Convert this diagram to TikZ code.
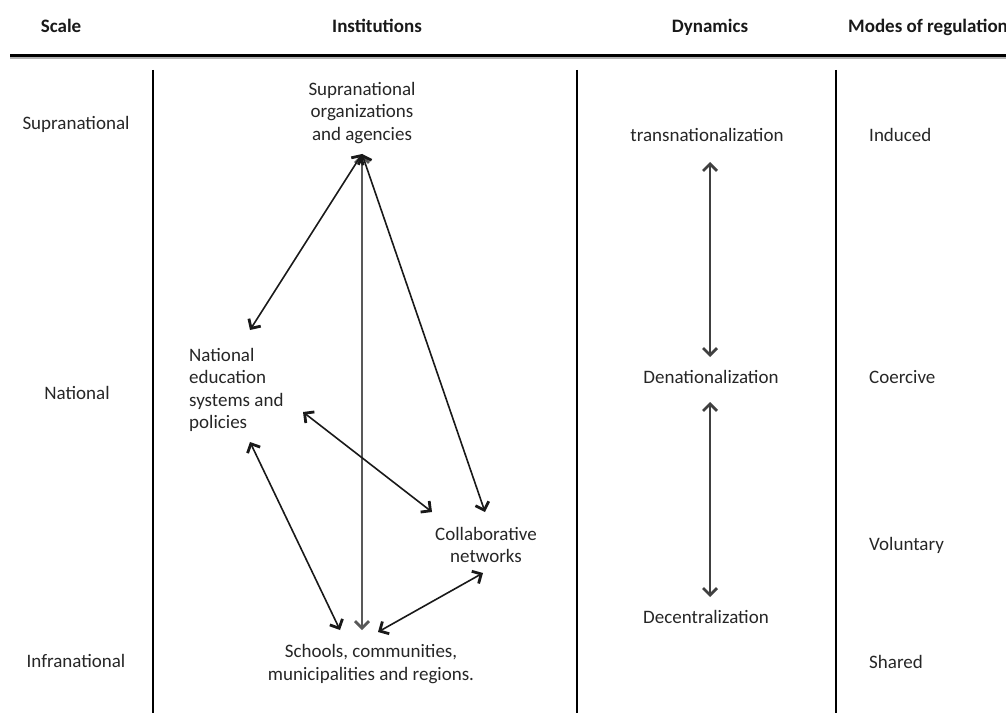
\documentclass[tikz,border=0pt]{standalone}
\usepackage{fontspec}
\setmainfont{Carlito}
\usetikzlibrary{arrows.meta}
\begin{document}
\begin{tikzpicture}[x=1pt,y=-1pt,
  txt/.style={inner sep=0pt, text=black!85, font=\fontsize{19}{22.5}\selectfont},
  hdr/.style={inner sep=0pt, text=black!90, font=\fontsize{19}{22.5}\selectfont\bfseries},
  colline/.style={line width=2.6pt, black},
  link/.style={line width=1.6pt, black!90, {Straight Barb[length=7pt,width=14pt,line width=2.8pt]}-{Straight Barb[length=7pt,width=14pt,line width=2.8pt]}},
  vlink/.style={link, black!65, line width=1.9pt},
]
\useasboundingbox (0,0) rectangle (1006,722);

% header
\node[hdr, anchor=base] (hScale) at (61,33) {Scale};
\node[hdr, anchor=base] (hInst) at (377,33) {Institutions};
\node[hdr, anchor=base] (hDyn) at (710,33) {Dynamics};
\node[hdr, anchor=base west] (hModes) at (848,33) {Modes of regulation};
\draw[black!30, line width=2pt] (10,57.9) -- (1006,57.9);
\draw[line width=2.6pt] (10,55.4) -- (1006,55.4);

% column lines
\draw[colline] (153,70) -- (153,713);
\draw[colline] (577,70) -- (577,713);
\draw[colline] (836,70) -- (836,713);

% scale column
\node[txt, anchor=base] (sSup) at (76,130) {Supranational};
\node[txt, anchor=base] (sNat) at (77,399) {National};
\node[txt, anchor=base] (sInf) at (76,667) {Infranational};

% institutions
\node[txt, align=center] (iSup) at (362,113) {Supranational\\organizations\\and agencies};
\node[txt, align=left, anchor=west] (iNat) at (189,390) {National\\education\\systems and\\policies};
\node[txt, align=center] (iCol) at (486,545) {Collaborative\\networks};
\node[txt, align=center] (iSch) at (371,664) {Schools, communities,\\municipalities and regions.};

\coordinate (supTip) at (362,154);
\coordinate (natUp) at (250,330);
\coordinate (natRight) at (303,412);
\coordinate (natDown) at (250,442);
\coordinate (colLeft) at (432,512);
\coordinate (colTop) at (485,512);
\coordinate (colBottom) at (483,573);
\coordinate (schLeft) at (340,630);
\coordinate (schMid) at (362,630);
\coordinate (schRight) at (378,632);

\draw[vlink] (supTip) -- (schMid);
\draw[link] (supTip) -- (natUp);
\draw[link] (supTip) -- (colTop);
\draw[link] (natRight) -- (colLeft);
\draw[link] (natDown) -- (schLeft);
\draw[link] (colBottom) -- (schRight);

% dynamics
\node[txt, anchor=base] (dTrans) at (707,142) {transnationalization};
\node[txt, anchor=base] (dDen) at (711,383) {Denationalization};
\node[txt, anchor=base] (dDec) at (706,623) {Decentralization};
\coordinate (t1) at (710,162);
\coordinate (t2) at (710,357);
\coordinate (t3) at (710,402);
\coordinate (t4) at (710,597);
\draw[link, black!75, line width=1.7pt] (t1) -- (t2);
\draw[link, black!75, line width=1.7pt] (t3) -- (t4);

% modes
\node[txt, anchor=base west] (mInd) at (869,142) {Induced};
\node[txt, anchor=base west] (mCoe) at (869,383) {Coercive};
\node[txt, anchor=base west] (mVol) at (869,550) {Voluntary};
\node[txt, anchor=base west] (mSha) at (869,668) {Shared};
\end{tikzpicture}
\end{document}
